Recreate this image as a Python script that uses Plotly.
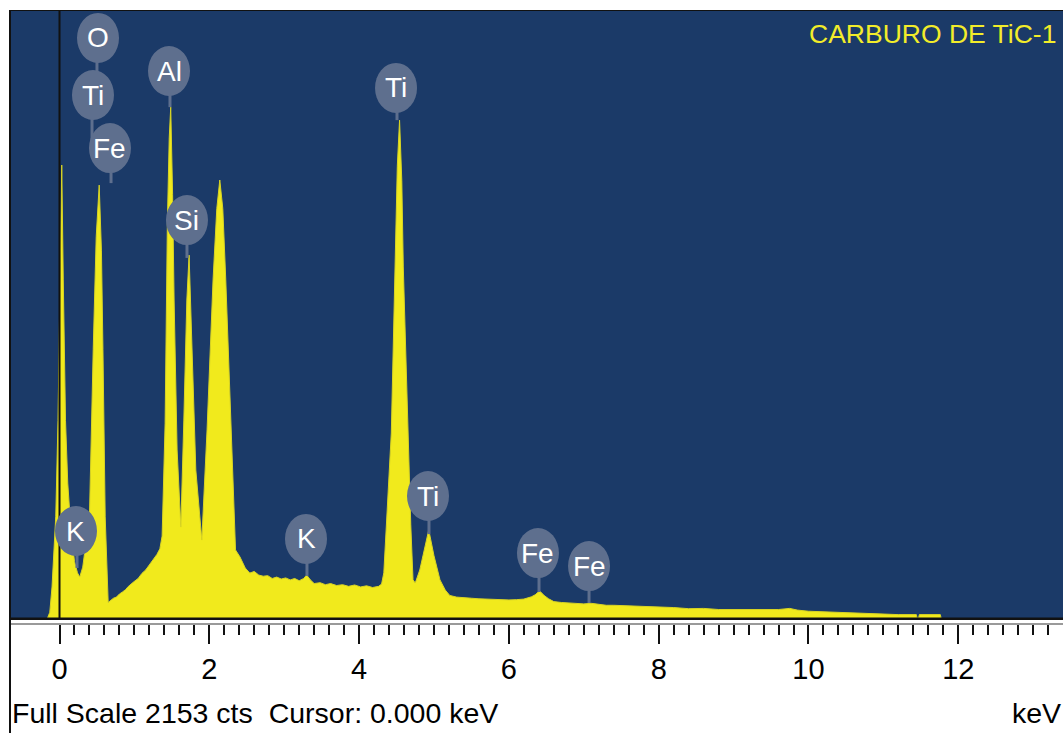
import numpy as np
import plotly.graph_objects as go

# EDS spectrum: energy (keV) and counts
energy_kev = [
    -0.16, -0.13, -0.10, -0.07, -0.05, -0.02, 0.01, 0.03, 0.05, 0.08, 0.11, 0.15, 0.20, 0.24, 0.27,
    0.31, 0.35, 0.40, 0.45, 0.49, 0.53, 0.56, 0.58, 0.61, 0.65, 0.68, 0.72, 0.76, 0.80, 0.84,
    0.88, 0.92, 0.96, 1.00, 1.05, 1.10, 1.15, 1.20, 1.25, 1.30, 1.34, 1.37, 1.41, 1.44, 1.465,
    1.485, 1.51, 1.53, 1.57, 1.62, 1.66, 1.70, 1.73, 1.77, 1.82, 1.90, 1.97, 2.05, 2.10, 2.14,
    2.18, 2.22, 2.29, 2.35, 2.41, 2.45, 2.48, 2.54, 2.60, 2.66, 2.72, 2.78, 2.84, 2.90, 2.96,
    3.02, 3.08, 3.14, 3.20, 3.26, 3.30, 3.35, 3.40, 3.48, 3.55, 3.62, 3.70, 3.78, 3.86, 3.94,
    4.02, 4.10, 4.18, 4.26, 4.30, 4.33, 4.37, 4.43, 4.48, 4.51, 4.54, 4.57, 4.59, 4.65, 4.69,
    4.72, 4.75, 4.81, 4.87, 4.93, 5.00, 5.08, 5.15, 5.21, 5.30, 5.40, 5.50, 5.60, 5.70, 5.80,
    5.90, 6.00, 6.10, 6.20, 6.30, 6.35, 6.41, 6.47, 6.53, 6.60, 6.70, 6.80, 6.90, 7.00, 7.10,
    7.20, 7.30, 7.40, 7.50, 7.60, 7.70, 7.80, 7.90, 8.00, 8.20, 8.40, 8.60, 8.80, 9.00, 9.20,
    9.40, 9.60, 9.75, 9.85, 10.00, 10.20, 10.40, 10.60, 10.80, 11.00, 11.20, 11.44, 11.45, 11.47,
    11.48, 11.76, 11.77,
]
counts = [
    0, 20, 110, 250, 360, 700, 1250, 1604, 1200, 700, 478, 320, 200, 160, 145,
    180, 260, 360, 950, 1350, 1533, 1300, 950, 358, 55, 62, 70, 74, 85, 92,
    100, 112, 122, 130, 140, 158, 170, 188, 205, 225, 245, 290, 690, 1399, 1700,
    1809, 1500, 1126, 595, 322, 701, 1126, 1285, 949, 524, 276, 666, 1197, 1450, 1551,
    1450, 1197, 666, 241, 216, 195, 177, 159, 165, 152, 148, 150, 140, 145, 138,
    142, 135, 140, 132, 140, 152, 135, 122, 125, 118, 122, 115, 118, 112, 117,
    110, 114, 108, 112, 120, 160, 350, 655, 1243, 1600, 1763, 1550, 1243, 655, 330,
    135, 124, 170, 241, 312, 220, 135, 99, 80, 74, 71, 70, 68, 67, 66,
    64, 64, 65, 67, 75, 82, 96, 80, 68, 58, 55, 53, 52, 50, 52,
    48, 45, 45, 44, 45, 42, 42, 40, 40, 37, 33, 34, 30, 30, 30,
    28, 30, 34, 28, 24, 22, 20, 18, 15, 13, 12, 12, 0, 0,
    12, 12, 0,
]

# Element markers: name and energy (keV) where each marker stem sits
peak_names = ["O", "Ti", "Fe", "Al", "Si", "Ti", "K", "K", "Ti", "Fe", "Fe"]
peak_kev = [0.50, 0.434, 0.688, 1.475, 1.702, 4.506, 0.234, 3.304, 4.933, 6.402, 7.07]

full_scale = 2153
tick_labels = ["0", "2", "4", "6", "8", "10", "12"]

# marker placement: (badge centre keV, badge centre counts, stem end counts)
badge_layout = [
    (0.514, 2054, 1852),
    (0.447, 1852, 1664),
    (0.674, 1664, 1540),
    (1.462, 1937, 1809),
    (1.702, 1409, 1275),
    (4.493, 1877, 1763),
    (0.220, 308, 177),
    (3.291, 280, 149),
    (4.920, 432, 297),
    (6.388, 230, 92),
    (7.070, 184, 53),
]

BLUE = "#1B3A68"
YELLOW = "#F1EA1C"
BADGE = "#5E6F8E"
FONT = "Liberation Sans Narrow, Arial Narrow, Liberation Sans, Arial, sans-serif"

x_range = [-0.661, 13.398]
y_range = [-17.7, full_scale]

fig = go.Figure()

fig.add_trace(go.Scatter(
    x=energy_kev, y=counts, mode="lines", fill="tozeroy",
    line=dict(color="#D8D424", width=1), fillcolor=YELLOW,
    hoverinfo="skip", showlegend=False,
))

shapes = [
    # spectrum panel
    dict(type="rect", xref="paper", yref="y", x0=0, x1=1, y0=0, y1=full_scale,
         fillcolor=BLUE, line_width=0, layer="below"),
    # frame lines
    dict(type="line", xref="paper", yref="y", x0=0, x1=1, y0=full_scale, y1=full_scale,
         line=dict(color="#111111", width=2)),
    dict(type="line", xref="paper", yref="y", x0=0, x1=1, y0=-3, y1=-3,
         line=dict(color="#111111", width=2.5)),
    dict(type="line", xref="paper", yref="paper", x0=0, x1=0, y0=-0.2, y1=1,
         line=dict(color="#111111", width=2)),
    # cursor at 0 keV
    dict(type="line", xref="x", yref="y", x0=0, x1=0, y0=0, y1=full_scale,
         line=dict(color="#111111", width=2)),
]

annotations = []
for name, kev, (cx, cy, tip) in zip(peak_names, peak_kev, badge_layout):
    shapes.append(dict(type="line", xref="x", yref="y", x0=kev, x1=kev, y0=tip, y1=cy,
                       line=dict(color=BADGE, width=3)))
for name, kev, (cx, cy, tip) in zip(peak_names, peak_kev, badge_layout):
    shapes.append(dict(type="circle", xref="x", yref="y", xsizemode="pixel", ysizemode="pixel",
                       xanchor=cx, yanchor=cy, x0=-21, x1=21, y0=-25, y1=25,
                       fillcolor=BADGE, line_width=0))
    annotations.append(dict(x=cx, y=cy, xref="x", yref="y", text=name, showarrow=False,
                            font=dict(family=FONT, size=28, color="white")))

annotations += [
    dict(x=0.9953, y=0.961, xref="paper", yref="paper", xanchor="right", yanchor="middle",
         text="CARBURO DE TiC-1", showarrow=False,
         font=dict(family=FONT, size=26.5, color="#F2EC2A")),
    dict(x=0.0, y=-0.1468, xref="paper", yref="paper", xanchor="left", yanchor="middle",
         text="Full Scale 2153 cts  Cursor: 0.000 keV", showarrow=False,
         font=dict(family=FONT, size=28.5, color="black")),
    dict(x=1.0, y=-0.1468, xref="paper", yref="paper", xanchor="right", yanchor="middle",
         text="keV", showarrow=False,
         font=dict(family=FONT, size=28.5, color="black")),
]

major = [0, 2, 4, 6, 8, 10, 12]
minor_vals = [round(v, 1) for v in np.arange(0.2, 13.21, 0.2) if abs(v / 2 - round(v / 2)) > 1e-6]

fig.update_layout(
    width=1063, height=733,
    margin=dict(l=10, r=0, t=10, b=110),
    paper_bgcolor="white", plot_bgcolor="white",
    shapes=shapes, annotations=annotations,
    xaxis=dict(
        range=x_range, showgrid=False, zeroline=False,
        showline=True, linecolor="#9A9A9A", linewidth=1.5,
        tickmode="array", tickvals=major, ticktext=tick_labels,
        ticks="outside", ticklen=19, tickwidth=2, tickcolor="#111111",
        tickfont=dict(family=FONT, size=29, color="black"),
        minor=dict(tickmode="array", tickvals=minor_vals, ticks="outside",
                   ticklen=10, tickwidth=2, tickcolor="#111111", showgrid=False),
        fixedrange=True,
    ),
    yaxis=dict(range=y_range, visible=False, fixedrange=True),
)

fig.write_html("out.html")
